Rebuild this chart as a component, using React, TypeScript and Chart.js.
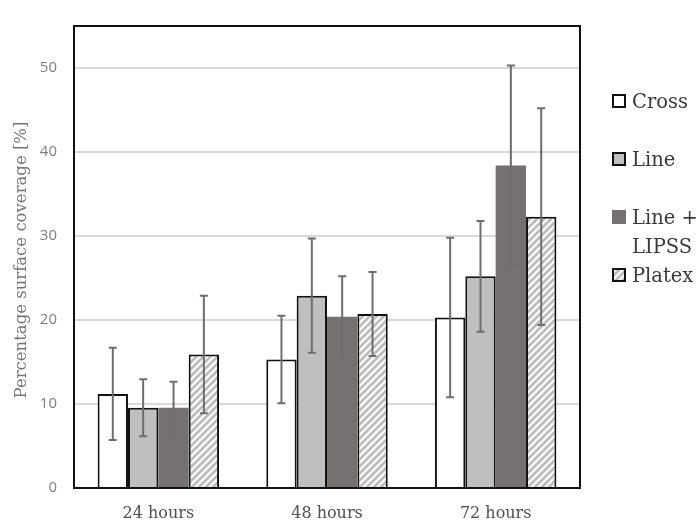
import React, { useEffect, useRef } from 'react';
import { Chart, registerables } from 'chart.js';

Chart.register(...registerables);

const categories = ['24 hours', '48 hours', '72 hours'];
const seriesNames = ['Cross', 'Line', 'Line +\nLIPSS', 'Platex'];
const crossValues = [11.2, 15.3, 20.3];
const crossErrors = [5.5, 5.2, 9.5];
const lineValues = [9.55, 22.9, 25.2];
const lineErrors = [3.4, 6.8, 6.6];
const lipssValues = [9.55, 20.4, 38.4];
const lipssErrors = [3.1, 4.8, 11.9];
const platexValues = [15.9, 20.7, 32.3];
const platexErrors = [7.0, 5.0, 12.9];
const yTicks = [0, 10, 20, 30, 40, 50];
const yMax = 55;
const yTitle = 'Percentage surface coverage [%]';

function makeHatch(): CanvasPattern | string {
  const c = document.createElement('canvas');
  const s = 7;
  c.width = s;
  c.height = s;
  const ctx = c.getContext('2d');
  if (!ctx) return '#ffffff';
  ctx.fillStyle = '#ffffff';
  ctx.fillRect(0, 0, s, s);
  ctx.strokeStyle = '#bdbdbd';
  ctx.lineWidth = 2.8;
  ctx.lineCap = 'square';
  for (const off of [-s, 0, s]) {
    ctx.beginPath();
    ctx.moveTo(off, s);
    ctx.lineTo(off + s, 0);
    ctx.stroke();
  }
  return ctx.createPattern(c, 'repeat') || '#ffffff';
}

const errorBarsPlugin = {
  id: 'errorBars',
  afterDatasetsDraw(chart: any) {
    const { ctx } = chart;
    const yScale = chart.scales.y;
    const a = chart.chartArea;
    ctx.save();
    ctx.strokeStyle = '#111111';
    ctx.lineWidth = 2;
    ctx.strokeRect(a.left, a.top, a.right - a.left, a.bottom - a.top);
    ctx.restore();

    ctx.save();
    ctx.strokeStyle = '#6e6e6e';
    ctx.lineWidth = 2;
    chart.data.datasets.forEach((ds: any, i: number) => {
      const meta = chart.getDatasetMeta(i);
      const errs: number[] = ds.errors || [];
      meta.data.forEach((bar: any, j: number) => {
        const v = ds.data[j];
        const e = errs[j];
        if (e == null) return;
        const x = bar.x;
        const yTop = yScale.getPixelForValue(v + e);
        const yBot = yScale.getPixelForValue(v - e);
        const cap = 4;
        ctx.beginPath();
        ctx.moveTo(x, yTop);
        ctx.lineTo(x, yBot);
        ctx.moveTo(x - cap, yTop);
        ctx.lineTo(x + cap, yTop);
        ctx.moveTo(x - cap, yBot);
        ctx.lineTo(x + cap, yBot);
        ctx.stroke();
      });
    });
    ctx.restore();
  },
};

const customTextPlugin = {
  id: 'customText',
  afterDraw(chart: any) {
    const { ctx } = chart;
    const a = chart.chartArea;
    ctx.save();
    ctx.fillStyle = '#767676';
    ctx.font = '16.5px "DejaVu Serif"';
    ctx.textAlign = 'center';
    ctx.textBaseline = 'middle';
    ctx.translate(22, 260);
    ctx.rotate(-Math.PI / 2);
    ctx.fillText(yTitle, 0, 0);
    ctx.restore();

    ctx.save();
    const boxX = a.right + 32;
    const textX = boxX + 20;
    const baselines = [108, 166, 224, 282];
    ctx.font = '19.5px "DejaVu Serif"';
    ctx.textAlign = 'left';
    ctx.textBaseline = 'alphabetic';
    chart.data.datasets.forEach((ds: any, i: number) => {
      const base = baselines[i];
      const boxY = base - 14;
      const bw = ds.borderWidth || 0;
      ctx.fillStyle = ds.backgroundColor;
      ctx.fillRect(boxX, boxY, 14, 14);
      if (bw > 0) {
        ctx.strokeStyle = ds.borderColor;
        ctx.lineWidth = 2;
        ctx.strokeRect(boxX + 1, boxY + 1, 12, 12);
      }
      ctx.fillStyle = '#3a3a3a';
      const lines = String(ds.label).split('\n');
      lines.forEach((ln: string, k: number) => {
        ctx.fillText(ln, textX, base + k * 29);
      });
    });
    ctx.restore();
  },
};

export default function App() {
  const ref = useRef<HTMLCanvasElement | null>(null);

  useEffect(() => {
    if (!ref.current) return;
    const hatch = makeHatch();
    const chart = new Chart(ref.current, {
      type: 'bar',
      data: {
        labels: categories,
        datasets: [
          {
            label: seriesNames[0],
            data: crossValues,
            errors: crossErrors,
            backgroundColor: '#ffffff',
            borderColor: '#111111',
            borderWidth: 2,
          } as any,
          {
            label: seriesNames[1],
            data: lineValues,
            errors: lineErrors,
            backgroundColor: '#bfbfbf',
            borderColor: '#111111',
            borderWidth: 2,
          } as any,
          {
            label: seriesNames[2],
            data: lipssValues,
            errors: lipssErrors,
            backgroundColor: '#767171',
            borderColor: '#767171',
            borderWidth: 0,
          } as any,
          {
            label: seriesNames[3],
            data: platexValues,
            errors: platexErrors,
            backgroundColor: hatch,
            borderColor: '#111111',
            borderWidth: 2,
          } as any,
        ],
      },
      options: {
        responsive: false,
        animation: false,
        events: [],
        layout: { padding: { top: 12, right: 119, left: 0, bottom: 0 } },
        datasets: {
          bar: { categoryPercentage: 0.72, barPercentage: 1.0 },
        },
        plugins: {
          legend: { display: false },
          tooltip: { enabled: false },
          title: { display: false },
        },
        scales: {
          x: {
            grid: { display: false, drawTicks: false },
            border: { display: false },
            ticks: {
              color: '#505050',
              padding: 16,
              font: { family: '"DejaVu Serif"', size: 16 },
            },
            afterFit(scale: any) {
              scale.height = 44;
            },
          },
          y: {
            min: 0,
            max: yMax,
            grid: { color: '#d9d9d9', lineWidth: 2, drawTicks: false },
            border: { display: false },
            ticks: {
              color: '#7f7f7f',
              padding: 17,
              font: { family: '"Open Sans"', size: 15 },
            },
            afterBuildTicks(scale: any) {
              scale.ticks = yTicks.map((v) => ({ value: v }));
            },
            afterFit(scale: any) {
              scale.width = 74;
            },
          },
        },
      },
      plugins: [errorBarsPlugin, customTextPlugin],
    });
    return () => chart.destroy();
  }, []);

  return (
    <div style={{ position: 'absolute', left: 0, top: 0, width: 699, height: 532, background: '#ffffff' }}>
      <canvas ref={ref} width={699} height={532} />
    </div>
  );
}
